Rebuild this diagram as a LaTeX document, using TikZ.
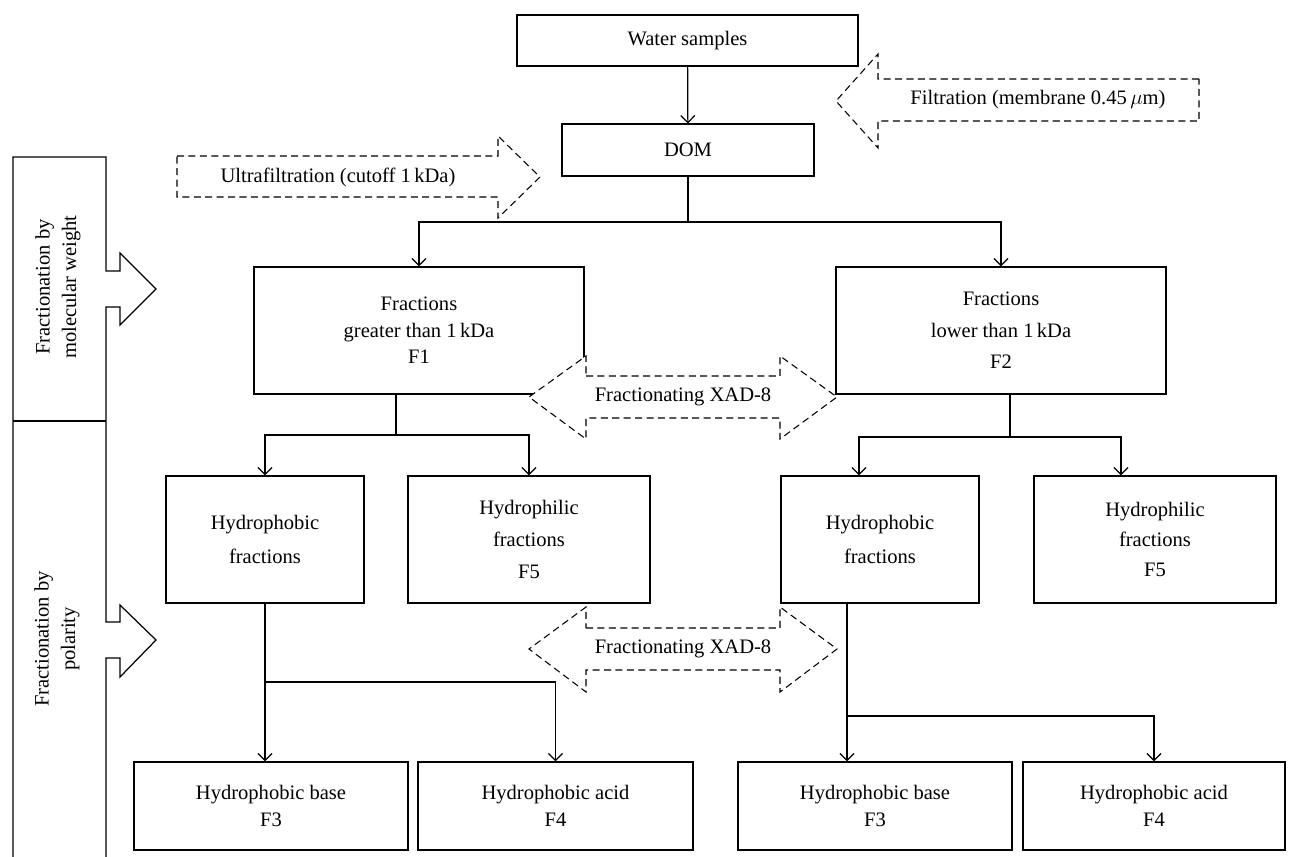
\documentclass[tikz,border=0pt]{standalone}
\usepackage{fontspec}
\setmainfont{Liberation Serif}
\usetikzlibrary{arrows.meta}

\tikzset{
  box/.style={draw, line width=0.7pt, align=center, inner sep=0pt},
  flow/.style={line width=0.7pt, -{Straight Barb[length=4pt,width=8pt]}},
  link/.style={line width=0.7pt},
  hint/.style={draw, fill=white, line width=0.6pt, dash pattern=on 4pt off 2.5pt}
}

\begin{document}
\begin{tikzpicture}[x=0.02cm, y=-0.02cm, font=\fontsize{11.7}{15}\selectfont]
            \useasboundingbox (0,0) rectangle (1289,856);

            % Side bar
            \draw[link] (13,858) -- (13,157) -- (106,157) -- (106,271) -- (120,271) -- (120,253) -- (156,289) -- (120,325) -- (120,307) -- (106,307)
              -- (106,622) -- (120,622) -- (120,605) -- (156,640) -- (120,677) -- (120,658) -- (106,658) -- (106,858);
            \draw[link] (13,421) -- (106,421);
            \node[rotate=90, align=center] (weight) at (58,287) {Fractionation by\\molecular weight};
            \node[rotate=90, align=center] (polar) at (57,639) {Fractionation by\\polarity};

            % First stage nodes
            \node[box, minimum width=6.82cm, minimum height=1.02cm] (water) at (687.5,40.5) {Water samples};
            \node[box, minimum width=5.04cm, minimum height=1.04cm] (dom) at (688,150) {DOM};
            \draw[flow] (water) -- (dom);

            % Second stage nodes
            \node[box, minimum width=6.6cm, minimum height=2.54cm] (f1) at (419,330.5) {Fractions\\greater than 1\,kDa\\F1};
            \node[box, minimum width=6.6cm, minimum height=2.54cm] (f2) at (1001,330.5) {Fractions\\[3pt]lower than 1\,kDa\\[3pt]F2};
            \coordinate (j1) at (688,222);
            \draw[flow] (dom.south) -- (j1) -| (f1.north);
            \draw[flow] (j1) -| (f2.north);

            % Third stage nodes
            \node[box, minimum width=3.96cm, minimum height=2.54cm] (hpbL) at (265,539.5) {Hydrophobic\\[4pt]fractions};
            \node[box, minimum width=4.84cm, minimum height=2.54cm] (hplL) at (529,539.5) {Hydrophilic\\[3pt]fractions\\[3pt]F5};
            \node[box, minimum width=3.96cm, minimum height=2.54cm] (hpbR) at (880,539.5) {Hydrophobic\\[4pt]fractions};
            \node[box, minimum width=4.84cm, minimum height=2.54cm] (hplR) at (1155,539.5) {Hydrophilic\\[2pt]fractions\\[2pt]F5};
            \coordinate (j2) at (396,435);
            \draw[link] (f1.south -| j2) -- (j2);
            \draw[flow] (j2) -| (hpbL.north);
            \draw[flow] (j2) -| (hplL.north);
            \coordinate (j3) at (1010,437);
            \draw[link] (f2.south -| j3) -- (j3);
            \draw[flow] (j3) -| ([xshift=-0.42cm]hpbR.north);
            \draw[flow] (j3) -| ([xshift=-0.68cm]hplR.north);

            % Fourth stage nodes
            \node[box, minimum width=5.48cm, minimum height=1.76cm] (b1) at (271,806) {Hydrophobic base\\F3};
            \node[box, minimum width=5.5cm, minimum height=1.76cm] (b2) at (555.5,806) {Hydrophobic acid\\F4};
            \node[box, minimum width=5.48cm, minimum height=1.76cm] (b3) at (875,806) {Hydrophobic base\\F3};
            \node[box, minimum width=5.24cm, minimum height=1.76cm] (b4) at (1154,806) {Hydrophobic acid\\F4};
            \coordinate (j4) at (265,682);
            \draw[flow] (hpbL.south) -- (hpbL.south |- b1.north);
            \draw[flow] (j4) -| (b2.north);
            \coordinate (j5) at (847,716);
            \draw[flow] (hpbR.south -| j5) -- (b3.north -| j5);
            \draw[flow] (j5) -| (b4.north);

            % Dashed process arrows
            \draw[hint] (1199,79) -- (878,79) -- (878,54) -- (836,101) -- (878,148) -- (878,121) -- (1199,121) -- cycle;
            \node (filt) at (1038,100) {Filtration (membrane 0.45\,$\mu$m)};
            \draw[hint] (177,156) -- (498,156) -- (498,136) -- (540,177) -- (498,218) -- (498,197) -- (177,197) -- cycle;
            \node (ultra) at (338,177) {Ultrafiltration (cutoff 1\,kDa)};
            \draw[hint] (586,376) -- (780,376) -- (780,356) -- (837,397) -- (780,439) -- (780,418) -- (586,418) -- (586,439) -- (529,397) -- (586,356) -- cycle;
            \node (xad1) at (683,397) {Fractionating XAD-8};
            \draw[hint] (586,628) -- (780,628) -- (780,607) -- (837,649) -- (780,692) -- (780,670) -- (586,670) -- (586,692) -- (529,649) -- (586,607) -- cycle;
            \node (xad2) at (683,649) {Fractionating XAD-8};
        \end{tikzpicture}
\end{document}
